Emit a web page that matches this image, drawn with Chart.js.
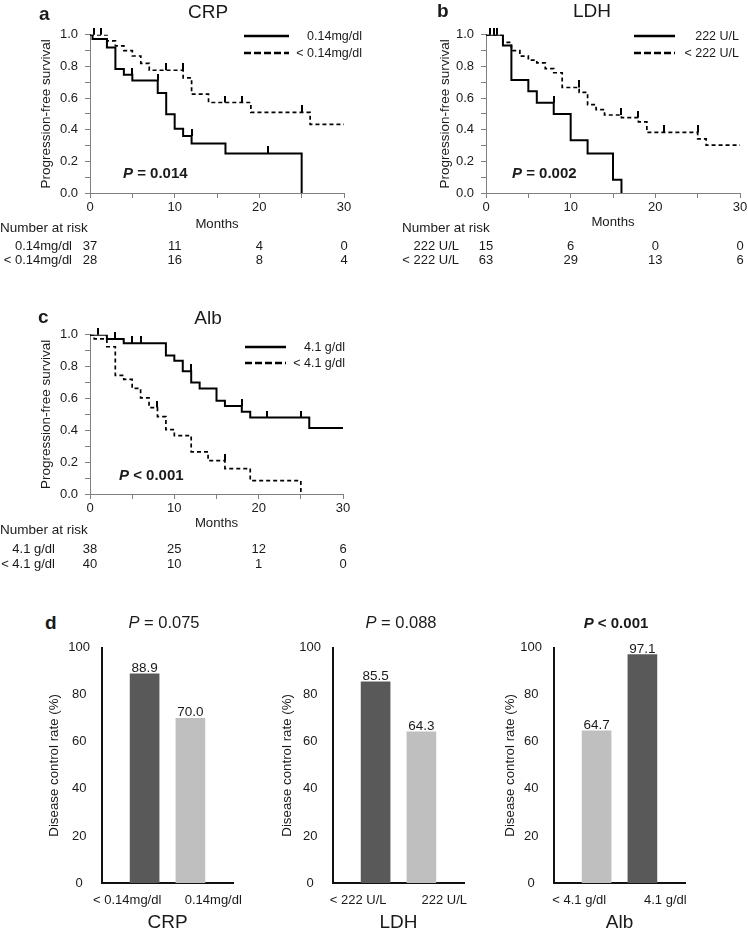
<!DOCTYPE html>
<html><head><meta charset="utf-8">
<script src="https://cdn.jsdelivr.net/npm/chart.js@4.4.1/dist/chart.umd.min.js"></script>
<style>
html,body{margin:0;padding:0;background:#fff;}
body{width:748px;height:931px;overflow:hidden;position:relative;font-family:"Liberation Sans",Arial,sans-serif;color:#1a1a1a;}
canvas{position:absolute;}
.t{position:absolute;white-space:nowrap;line-height:1;}
svg{position:absolute;overflow:visible;}
</style></head><body>
<script>
// ---------- DATA ----------
const riskTimes = [0, 10, 20, 30];

// Panel a: CRP
const crpHigh = [[0,1],[0.3,0.973],[2,0.919],[3,0.784],[4,0.748],[5,0.711],[8,0.632],[9,0.497],[10,0.406],[11,0.361],[12,0.313],[16,0.25],[25,0]];
const crpHighCens = [[5,0.748],[8,0.711],[12,0.361],[21,0.25]];
const crpLow = [[0,1],[2,0.962],[3,0.93],[4,0.9],[5,0.866],[6,0.82],[7,0.776],[11,0.728],[12,0.625],[14,0.572],[19,0.51],[26,0.434],[30,0.434]];
const crpLowCens = [[0.5,1],[1.3,1],[9,0.776],[11,0.776],[16,0.572],[18,0.572],[25,0.51]];
const crpLabels = ['0.14mg/dl', '< 0.14mg/dl'];
const crpRiskHigh = [37, 11, 4, 0];
const crpRiskLow = [28, 16, 8, 4];

// Panel b: LDH
const ldhHigh = [[0,1],[2,0.933],[3,0.714],[5,0.643],[6,0.571],[8,0.5],[10,0.333],[12,0.25],[15,0.083],[16,0]];
const ldhHighCens = [[1,1],[8,0.571]];
const ldhLow = [[0,1],[2,0.952],[3,0.9],[4,0.865],[5,0.84],[6,0.822],[7,0.786],[8,0.76],[9,0.667],[11,0.636],[12,0.558],[13,0.527],[14,0.493],[16,0.477],[18,0.45],[19,0.383],[25,0.342],[26,0.302],[30,0.302]];
const ldhLowCens = [[0.5,1],[1.3,1],[11,0.667],[16,0.493],[18,0.477],[21,0.383],[25,0.383]];
const ldhLabels = ['222 U/L', '< 222 U/L'];
const ldhRiskHigh = [15, 6, 0, 0];
const ldhRiskLow = [63, 29, 13, 6];

// Panel c: Alb
const albHigh = [[0,1],[2,0.974],[4,0.947],[9,0.87],[10,0.837],[11,0.771],[12,0.7],[13,0.662],[15,0.585],[16,0.553],[18,0.517],[19,0.48],[26,0.415],[30,0.415]];
const albHighCens = [[1,1],[3,0.974],[5,0.947],[6,0.947],[12,0.771],[18,0.553],[21,0.48],[25,0.48]];
const albLow = [[0,1],[0.5,0.975],[2,0.925],[3,0.745],[4,0.72],[5,0.664],[6,0.604],[7,0.543],[8,0.486],[9,0.404],[10,0.367],[12,0.265],[14,0.21],[16,0.16],[19,0.084],[25,0]];
const albLowCens = [[8,0.543],[16,0.21]];
const albLabels = ['4.1 g/dl', '< 4.1 g/dl'];
const albRiskHigh = [38, 25, 12, 6];
const albRiskLow = [40, 10, 1, 0];

// Panel d: disease control rate
const crpCats = ['< 0.14mg/dl', '0.14mg/dl'];
const crpRates = [88.9, 70.0];
const ldhCats = ['< 222 U/L', '222 U/L'];
const ldhRates = [85.5, 64.3];
const albCats = ['< 4.1 g/dl', '4.1 g/dl'];
const albRates = [64.7, 97.1];

// ---------- STYLE ----------
const DARK = '#595959', LIGHT = '#bfbfbf';
Chart.defaults.font.family = "'Liberation Sans', Arial, sans-serif";
Chart.defaults.color = '#1a1a1a';

const tickImg = document.createElement('canvas');
tickImg.width = 2; tickImg.height = 14;
(function(){ const c = tickImg.getContext('2d'); c.fillStyle = '#000'; c.fillRect(0, 0, 2, 7); })();

function txt(html, x, cy, size, o) {
  o = o || {};
  const d = document.createElement('div');
  d.className = 't';
  d.innerHTML = html;
  d.style.fontSize = size + 'px';
  d.style.top = (cy - 0.49 * size) + 'px';
  if (o.bold) d.style.fontWeight = 'bold';
  if (o.align === 'right') { d.style.right = (748 - x) + 'px'; d.style.textAlign = 'right'; }
  else if (o.align === 'center') { d.style.left = x + 'px'; d.style.transform = 'translateX(-50%)'; }
  else d.style.left = x + 'px';
  document.body.appendChild(d);
  return d;
}
function legLine(x1, x2, y, dash) {
  const ns = 'http://www.w3.org/2000/svg';
  const s = document.createElementNS(ns, 'svg');
  s.setAttribute('width', 748); s.setAttribute('height', 931);
  s.style.left = '0px'; s.style.top = '0px';
  const l = document.createElementNS(ns, 'line');
  l.setAttribute('x1', x1); l.setAttribute('x2', x2); l.setAttribute('y1', y); l.setAttribute('y2', y);
  l.setAttribute('stroke', '#000'); l.setAttribute('stroke-width', dash ? 2.4 : 2.3);
  if (dash) l.setAttribute('stroke-dasharray', '7 3');
  s.appendChild(l);
  document.body.appendChild(s);
}
function mkCanvas(L, T, W, H) {
  const cv = document.createElement('canvas');
  cv.style.left = L + 'px'; cv.style.top = T + 'px';
  cv.width = W; cv.height = H;
  cv.style.width = W + 'px'; cv.style.height = H + 'px';
  document.body.appendChild(cv);
  return cv;
}

function km(box, curves, yPad, mPad) {
  const cv = mkCanvas(box.L, box.T, box.W, box.H);
  const ds = [];
  curves.forEach(c => {
    ds.push({type: 'line', data: c.pts.map(p => ({x: p[0], y: p[1]})), stepped: 'before',
      borderColor: '#000', borderWidth: c.dash ? 1.7 : 2, borderDash: c.dash ? [4, 3] : [],
      pointRadius: 0, fill: false, borderCapStyle: 'butt'});
    ds.push({type: 'scatter', data: c.cens.map(p => ({x: p[0], y: p[1]})), pointStyle: tickImg,
      pointRadius: 3, clip: false, showLine: false});
  });
  const axisCol = '#808080';
  return new Chart(cv, {
    type: 'line',
    data: {datasets: ds},
    options: {
      responsive: false, animation: false, events: [],
      layout: {padding: {top: box.pt, right: box.pr, left: 0, bottom: 0}},
      plugins: {legend: {display: false}, tooltip: {enabled: false}},
      scales: {
        x: {type: 'linear', min: 0, max: 30,
          afterFit: s => { s.height = box.hx; },
          ticks: {stepSize: 5, autoSkip: false, maxRotation: 0, padding: 2, font: {size: 13}, color: '#1a1a1a',
            callback: v => (v % 10 === 0 ? String(v) : '')},
          grid: {drawOnChartArea: false, drawTicks: true, tickLength: 5, color: axisCol},
          border: {display: true, color: axisCol, width: 1},
          title: {display: true, text: 'Months', font: {size: 13.2}, color: '#1a1a1a', padding: {top: 0, bottom: mPad}}},
        y: {type: 'linear', min: 0, max: 1,
          afterFit: s => { s.width = box.wy; },
          ticks: {stepSize: 0.1, autoSkip: false, padding: 7, font: {size: 13}, color: '#1a1a1a',
            callback: v => (Math.round(v * 10) % 2 === 0 ? v.toFixed(1) : '')},
          grid: {drawOnChartArea: false, drawTicks: true, tickLength: 5, color: axisCol},
          border: {display: true, color: axisCol, width: 1},
          title: {display: true, text: 'Progression-free survival', font: {size: 13.5}, color: '#1a1a1a', padding: {top: yPad, bottom: 0}}}
      }
    }
  });
}

const valueLabels = {
  id: 'valueLabels',
  afterDatasetsDraw(chart) {
    const ctx = chart.ctx;
    const meta = chart.getDatasetMeta(0);
    ctx.save();
    ctx.font = "13.5px 'Liberation Sans', Arial, sans-serif";
    ctx.fillStyle = '#1a1a1a';
    ctx.textAlign = 'center';
    ctx.textBaseline = 'alphabetic';
    meta.data.forEach((bar, i) => {
      const v = chart.data.datasets[0].data[i].y;
      ctx.fillText(v.toFixed(1), bar.x, bar.y - 2);
    });
    ctx.restore();
  }
};

function bars(L, cats, vals, colors, title, yPad) {
  const cv = mkCanvas(L, 628, 236, 312);
  return new Chart(cv, {
    type: 'bar',
    data: {datasets: [{data: vals.map((v, i) => ({x: i, y: v})), backgroundColor: colors, barThickness: 29, borderWidth: 0}]},
    options: {
      responsive: false, animation: false, events: [],
      layout: {padding: {top: 13, right: 33, left: 0, bottom: 0}},
      plugins: {legend: {display: false}, tooltip: {enabled: false}},
      scales: {
        x: {type: 'linear', min: -0.93, max: 1.93, offset: false,
          afterFit: s => { s.height = 57; },
          afterBuildTicks: s => { s.ticks = [{value: -0.38}, {value: 1.5}]; },
          ticks: {autoSkip: false, maxRotation: 0, padding: 10, font: {size: 13}, color: '#1a1a1a',
            callback: (v, i) => cats[i]},
          grid: {display: false, drawTicks: false, tickLength: 0, offset: false},
          border: {display: true, color: '#111', width: 2},
          title: {display: true, text: title, font: {size: 19}, color: '#1a1a1a', padding: {top: 0, bottom: 5.6}}},
        y: {min: 0, max: 100,
          afterFit: s => { s.width = 72; },
          ticks: {stepSize: 20, padding: 12, crossAlign: 'center', font: {size: 13}, color: '#1a1a1a'},
          grid: {display: false, drawTicks: false, tickLength: 0},
          border: {display: true, color: '#111', width: 2},
          title: {display: true, text: 'Disease control rate (%)', font: {size: 13.3}, color: '#1a1a1a', padding: {top: yPad, bottom: 0}}}
      }
    },
    plugins: [valueLabels]
  });
}

// ---------- KM CHARTS ----------
const chA = km({L: 0, T: 20, W: 360, H: 215, pt: 11, pr: 16, wy: 90, hx: 42},
  [{pts: crpHigh, cens: crpHighCens, dash: false}, {pts: crpLow, cens: crpLowCens, dash: true}], 38.4, 3.1);
const chB = km({L: 374, T: 20, W: 384, H: 215, pt: 11, pr: 18, wy: 112, hx: 42},
  [{pts: ldhHigh, cens: ldhHighCens, dash: false}, {pts: ldhLow, cens: ldhLowCens, dash: true}], 63.4, 4.6);
const chC = km({L: 0, T: 320, W: 360, H: 215, pt: 11, pr: 17, wy: 90, hx: 41},
  [{pts: albHigh, cens: albHighCens, dash: false}, {pts: albLow, cens: albLowCens, dash: true}], 38.4, 4.1);

// panel letters and titles
txt('a', 39, 13, 19, {bold: true});
txt('CRP', 208, 11.5, 19, {align: 'center'});
txt('b', 437, 10.5, 19, {bold: true});
txt('LDH', 592, 10.5, 19, {align: 'center'});
txt('c', 38, 316, 19, {bold: true});
txt('Alb', 208, 317, 19, {align: 'center'});
txt('d', 45, 622.5, 19, {bold: true});

// legends
legLine(244, 289, 36, false); txt(crpLabels[0], 362, 36, 12.5, {align: 'right'});
legLine(244, 289, 53, true);  txt(crpLabels[1], 362, 53, 12.5, {align: 'right'});
legLine(634, 675, 36, false); txt(ldhLabels[0], 739, 36, 12.5, {align: 'right'});
legLine(634, 675, 53, true);  txt(ldhLabels[1], 739, 53, 12.5, {align: 'right'});
legLine(245, 286, 347, false); txt(albLabels[0], 345, 347, 12.5, {align: 'right'});
legLine(245, 286, 363, true);  txt(albLabels[1], 345, 363, 12.5, {align: 'right'});

// P values
txt('<i>P</i> = 0.014', 123, 172, 15, {bold: true});
txt('<i>P</i> = 0.002', 512, 172, 15, {bold: true});
txt('<i>P</i> &lt; 0.001', 119, 474, 15, {bold: true});

// risk tables
function risk(chart, L, headX, headY, labelRight, rowY, labels, rows) {
  txt('Number at risk', headX, headY, 13.5);
  rows.forEach((r, k) => {
    txt(labels[k].replace('<', '&lt;'), labelRight, rowY[k], 13, {align: 'right'});
    r.forEach((n, j) => {
      const px = L + chart.scales.x.getPixelForValue(riskTimes[j]);
      txt(String(n), px, rowY[k], 13, {align: 'center'});
    });
  });
}
risk(chA, 0, 0, 228, 72, [245, 259.5], crpLabels, [crpRiskHigh, crpRiskLow]);
risk(chB, 374, 402, 228, 459, [245, 259.5], ldhLabels, [ldhRiskHigh, ldhRiskLow]);
risk(chC, 0, 0, 530, 55, [548, 563], albLabels, [albRiskHigh, albRiskLow]);

// ---------- BAR CHARTS ----------
bars(30, crpCats, crpRates, [DARK, LIGHT], 'CRP', 16.7);
bars(261, ldhCats, ldhRates, [DARK, LIGHT], 'LDH', 18.5);
bars(482, albCats, albRates, [LIGHT, DARK], 'Alb', 20);
txt('<i>P</i> = 0.075', 164, 622.5, 16.5, {align: 'center'});
txt('<i>P</i> = 0.088', 401, 622.5, 16.5, {align: 'center'});
txt('<i>P</i> &lt; 0.001', 616, 622.5, 15, {align: 'center', bold: true});
</script>
</body></html>
